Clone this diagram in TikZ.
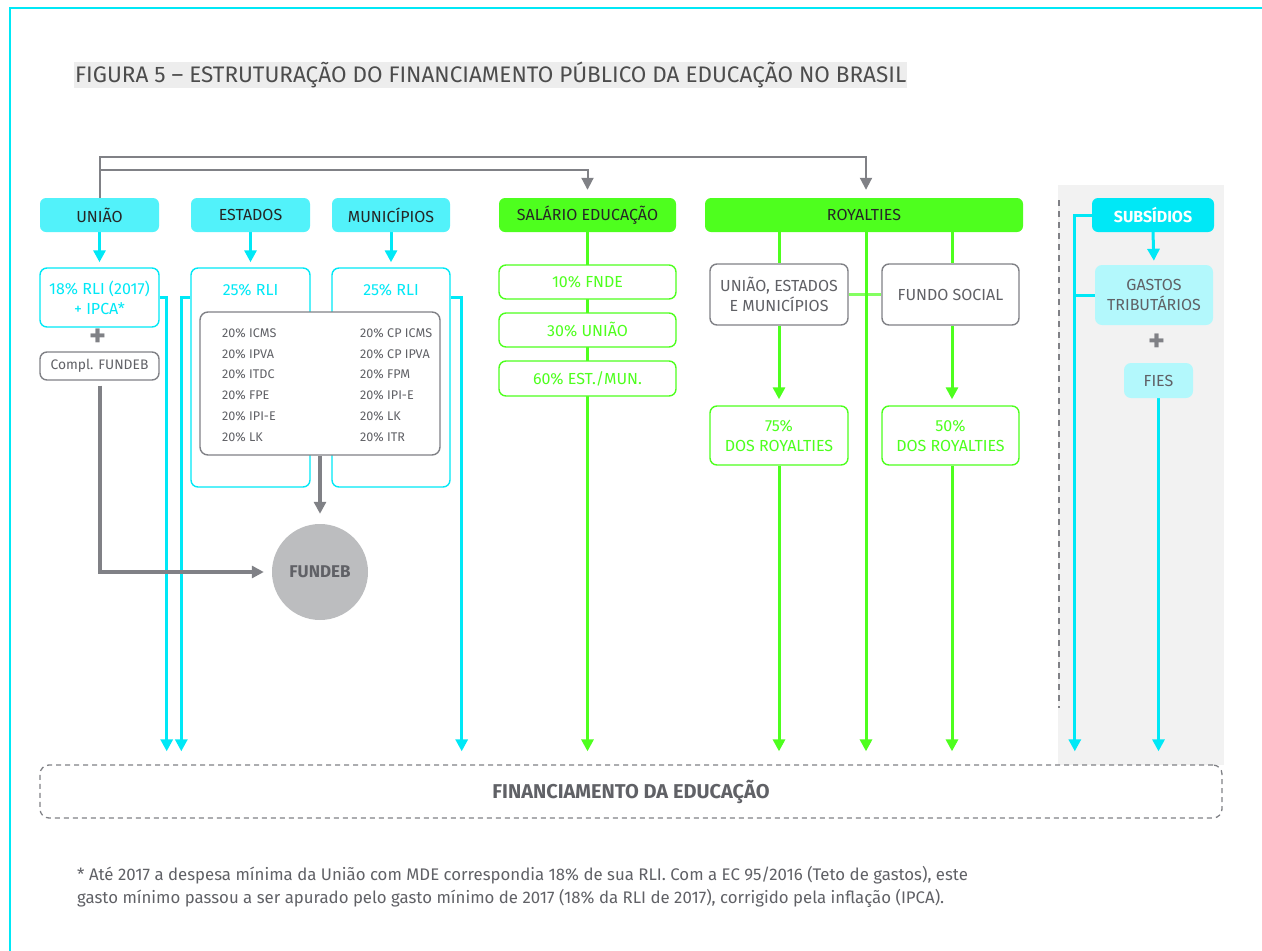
\documentclass[tikz,border=0pt]{standalone}
\usepackage{fontspec}
\setmainfont{Fira Sans}
\usetikzlibrary{positioning, arrows.meta, backgrounds}

\definecolor{ciano}{HTML}{00E8F6}
\definecolor{cianoclaro}{HTML}{52F2FA}
\definecolor{cianopalido}{HTML}{B3F8FC}
\definecolor{verde}{HTML}{4EFF1E}
\definecolor{cinza}{HTML}{606166}
\definecolor{cinzaseta}{HTML}{808186}
\definecolor{fundo}{HTML}{F2F2F2}
\definecolor{faixa}{HTML}{EDEDED}
\definecolor{bola}{HTML}{BCBDBF}

\tikzset{
  cabeca/.style={rounded corners=6pt, minimum height=34pt, inner sep=0pt, font=\fontsize{16}{18}\selectfont},
  cabecaciano/.style={cabeca, fill=cianoclaro, text=black!85},
  cabecaverde/.style={cabeca, fill=verde, text=black!85},
  caixa/.style={rounded corners=7pt, fill=white, line width=1.4pt, inner sep=0pt, align=center, font=\fontsize{16}{20}\selectfont},
  caixaciano/.style={caixa, draw=ciano, text=ciano},
  caixaverde/.style={caixa, draw=verde, text=verde},
  caixacinza/.style={caixa, draw=cinzaseta, text=cinza},
  caixapalida/.style={rounded corners=7pt, fill=cianopalido, text=cinza, inner sep=0pt, align=center, font=\fontsize{16}{20}\selectfont},
  item/.style={text=cinza, inner sep=0pt, font=\fontsize{12.6}{14}\selectfont},
  mais/.style={text=cinzaseta, inner sep=0pt, font=\fontsize{32}{32}\bfseries},
  seta/.style={-{Triangle[length=12pt,width=12pt]}},
  setaciano/.style={seta, draw=ciano, line width=3pt},
  setaverde/.style={seta, draw=verde, line width=3pt},
  setacinza/.style={seta, draw=cinzaseta, line width=2pt}
}

\begin{document}
\begin{tikzpicture}[x=1pt, y=-1pt]
  \useasboundingbox (0,0) rectangle (1262,951);
  \draw[ciano, line width=1.5pt] (10,951) -- (10,8) -- (1262,8);

  % titulo
  \node[fill=faixa, anchor=west, inner xsep=1pt, inner ysep=0pt, minimum height=26pt, text=black!70,
        font=\fontsize{22.5}{24}\selectfont] (titulo) at (74,75)
        {FIGURA 5 – ESTRUTURAÇÃO DO FINANCIAMENTO PÚBLICO DA EDUCAÇÃO NO BRASIL};

  % fontes
  \node[cabecaciano, minimum width=119pt] (uniao) at (99.5,215) {UNIÃO};
  \node[cabecaciano, minimum width=119pt] (estados) at (250.5,215) {ESTADOS};
  \node[cabecaciano, minimum width=118pt] (municipios) at (391,215) {MUNICÍPIOS};
  \node[cabecaverde, minimum width=177pt] (salario) at (587.5,215) {SALÁRIO EDUCAÇÃO};
  \node[cabecaverde, minimum width=318pt] (royalties) at (864,215) {ROYALTIES};
  \node[cabeca, fill=ciano, text=white, minimum width=122pt,
        font=\fontsize{16}{18}\bfseries] (subsidios) at (1153,215) {SUBSÍDIOS};

  % uniao
  \node[caixaciano, minimum width=119pt, minimum height=59pt] (rli18) at (99.5,297.5) {18\% RLI (2017)\\+ IPCA*};
  \node[mais] (mais1) at (98,338) {+};
  \node[caixacinza, minimum width=119pt, minimum height=28pt,
        font=\fontsize{13.8}{15}\selectfont] (compl) at (99.5,366) {Compl. FUNDEB};

  % estados e municipios
  \node[caixaciano, minimum width=119pt, minimum height=219pt] (estrli) at (250.5,377.5) {};
  \node[caixaciano, minimum width=118pt, minimum height=219pt] (munrli) at (391,377.5) {};
  \node[text=ciano, font=\fontsize{16}{18}\selectfont, below=13pt of estrli.north] (esttxt) {25\% RLI};
  \node[text=ciano, font=\fontsize{16}{18}\selectfont, below=13pt of munrli.north] (muntxt) {25\% RLI};
  \node[caixacinza, minimum width=240pt, minimum height=143pt, rounded corners=8pt] (cotas) at (320,383.5) {};
  \foreach \esq/\dir [count=\i from 0] in {ICMS/CP ICMS, IPVA/CP IPVA, ITDC/FPM, FPE/IPI-E, IPI-E/LK, LK/ITR} {
    \node[item, anchor=west] (esq\i) at (222, 333+20.8*\i) {20\% \esq};
    \node[item, anchor=west] (dir\i) at (360, 333+20.8*\i) {20\% \dir};
  }
  \node[circle, fill=bola, minimum size=96pt, text=cinza,
        font=\fontsize{17}{19}\bfseries] (fundeb) at (320,572) {FUNDEB};

  % salario educacao
  \node[caixaverde, minimum width=177pt, minimum height=34pt] (fnde) at (587.5,282) {10\% FNDE};
  \node[caixaverde, minimum width=177pt, minimum height=34pt] (suniao) at (587.5,330) {30\% UNIÃO};
  \node[caixaverde, minimum width=177pt, minimum height=35pt] (estmun) at (587.5,378.5) {60\% EST./MUN.};

  % royalties
  \node[caixacinza, minimum width=138pt, minimum height=61pt] (ue) at (779,294.5) {UNIÃO, ESTADOS\\E MUNICÍPIOS};
  \node[caixacinza, minimum width=137pt, minimum height=61pt] (fs) at (950.5,294.5) {FUNDO SOCIAL};
  \node[caixaverde, minimum width=138pt, minimum height=59pt] (r75) at (779,435.5) {75\%\\DOS ROYALTIES};
  \node[caixaverde, minimum width=137pt, minimum height=59pt] (r50) at (950.5,435.5) {50\%\\DOS ROYALTIES};

  % subsidios
  \node[caixapalida, minimum width=118pt, minimum height=60pt] (gastos) at (1154,295) {GASTOS\\TRIBUTÁRIOS};
  \node[mais] (mais2) at (1157,343) {+};
  \node[caixapalida, minimum width=69pt, minimum height=35pt] (fies) at (1158.5,380.5) {FIES};

  % destino
  \node[draw=cinzaseta, dashed, dash pattern=on 5pt off 4pt, line width=1.3pt, rounded corners=9pt,
        minimum width=1182pt, minimum height=53pt, text=cinza,
        font=\fontsize{20}{22}\bfseries] (financ) at (631,791.5) {FINANCIAMENTO DA EDUCAÇÃO};

  % nota
  \node[anchor=north west, inner sep=0pt, align=left, text=cinza,
        font=\fontsize{16.8}{23}\selectfont] (nota) at (77,866)
        {* Até 2017 a despesa mínima da União com MDE correspondia 18\% de sua RLI. Com a EC 95/2016 (Teto de gastos), este\\
         gasto mínimo passou a ser apurado pelo gasto mínimo de 2017 (18\% da RLI de 2017), corrigido pela inflação (IPCA).};

  \begin{scope}[on background layer]
    \fill[fundo] (1058,185) rectangle (1224,765);
    \draw[cinzaseta, line width=1.2pt, dash pattern=on 6pt off 5pt] (1059,200) -- (1059,708);

    % linhas cinza de cima
    \draw[setacinza] (uniao.north) -- ++(0,-41) -| ([yshift=8pt]royalties.north -| 866,0);
    \draw[setacinza] (uniao.north |- 0,170) -| ([yshift=8pt]salario.north);

    % ciano
    \draw[setaciano, shorten >=5pt] (uniao.south) -- (rli18.north);
    \draw[setaciano, shorten >=5pt] (estados.south) -- (estrli.north);
    \draw[setaciano, shorten >=5pt] (municipios.south) -- (munrli.north);
    \draw[setaciano, shorten >=13pt] (rli18.east) -- ++(7,0) coordinate (a1) -- (a1 |- financ.north);
    \draw[setaciano, shorten >=13pt] (estrli.west |- rli18.east) -- ++(-9,0) coordinate (a2) -- (a2 |- financ.north);
    \draw[setaciano, shorten >=13pt] (munrli.east |- rli18.east) -- ++(11,0) coordinate (a3) -- (a3 |- financ.north);
    \draw[setaciano, shorten >=13pt] (subsidios.west) -- ++(-17,0) coordinate (a4) -- (a4 |- financ.north);
    \draw[ciano, line width=3pt] (gastos.west) -- (gastos.west -| a4);
    \draw[setaciano, shorten >=4pt] (subsidios.south) -- (gastos.north);
    \draw[setaciano, shorten >=13pt] (fies.south) -- (fies.south |- financ.north);

    % cinza fundeb
    \draw[setacinza, line width=4pt, shorten <=5pt, shorten >=8pt] (compl.south) |- (fundeb.west);
    \draw[setacinza, line width=4pt, shorten >=10pt] (cotas.south) -- (fundeb.north);

    % verde
    \draw[setaverde, shorten >=13pt] (salario.south) -- (salario.south |- financ.north);
    \draw[verde, line width=3pt] (royalties.south -| ue.north) -- (ue.north);
    \draw[verde, line width=3pt] (royalties.south -| 952,0) -- (fs.north -| 952,0);
    \draw[verde!70, line width=3pt] (ue.east) -- (fs.west);
    \draw[setaverde, shorten >=13pt] (royalties.south -| 866,0) -- (financ.north -| 866,0);
    \draw[setaverde, shorten >=6pt] (ue.south) -- (r75.north);
    \draw[setaverde, shorten >=6pt] (fs.south -| 952,0) -- (r50.north -| 952,0);
    \draw[setaverde, shorten >=13pt] (r75.south) -- (r75.south |- financ.north);
    \draw[setaverde, shorten >=13pt] (r50.south -| 952,0) -- (financ.north -| 952,0);
  \end{scope}
\end{tikzpicture}
\end{document}
